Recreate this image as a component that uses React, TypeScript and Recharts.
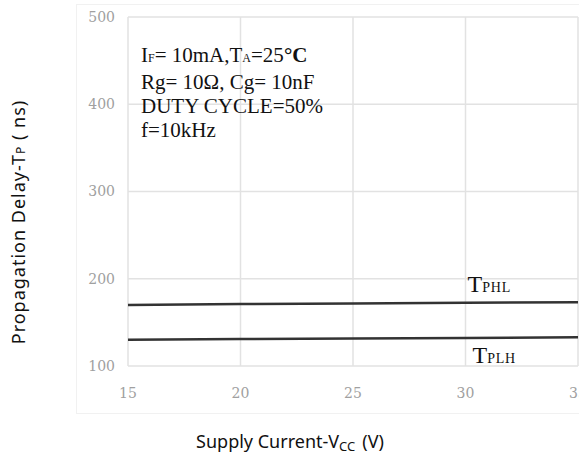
import React from "react";
import {
  LineChart,
  Line,
  XAxis,
  YAxis,
  CartesianGrid,
  ReferenceDot,
} from "recharts";

// supply voltage (V) and propagation delays (ns)
const supplyVoltage = [15, 20, 25, 30, 35];
const tphlDelay = [170, 171, 171.5, 172.5, 173];
const tplhDelay = [130, 131, 131.5, 132, 133];

const xTicks = [15, 20, 25, 30, 35];
const yTicks = [100, 200, 300, 400, 500];

const data = supplyVoltage.map((v, i) => ({
  vcc: v,
  tphl: tphlDelay[i],
  tplh: tplhDelay[i],
}));

const serif = "'Liberation Serif', 'Times New Roman', serif";
const sans = "'Noto Sans', 'Open Sans', sans-serif";

const tickStyle = {
  fontFamily: "'DejaVu Serif', serif",
  fontSize: 14,
  fill: "#a0a0a0",
};

function seriesLabel(main: string, sub: string, dx: number, dy: number) {
  return (props: any) => {
    const vb = props.viewBox || {};
    return (
      <text x={vb.x + dx} y={vb.y + dy} fontFamily={serif} fill="#111">
        <tspan fontSize={24}>{main}</tspan>
        <tspan fontSize={14} letterSpacing={0.8}>
          {sub}
        </tspan>
      </text>
    );
  };
}

const yLabel = () => (
  <text
    x={25}
    y={222}
    transform="rotate(-90, 25, 222)"
    textAnchor="middle"
    fontFamily={sans}
    fontSize={18}
    letterSpacing={1}
    fill="#111"
  >
    Propagation Delay-T<tspan fontSize={12}>P</tspan> ( ns)
  </text>
);

const xLabel = () => (
  <text
    x={290}
    y={448}
    textAnchor="middle"
    fontFamily={sans}
    fontSize={18}
    fill="#111"
  >
    Supply Current-V
    <tspan fontSize={13} dy={3}>
      CC
    </tspan>
    <tspan dy={-3} dx={7}>
      (V)
    </tspan>
  </text>
);

export default function App() {
  return (
    <div
      style={{
        position: "absolute",
        left: 0,
        top: 0,
        width: 579,
        height: 456,
        overflow: "hidden",
        background: "#fff",
      }}
    >
      <div
        style={{
          position: "absolute",
          left: 76,
          top: 4,
          width: 520,
          height: 408,
          border: "1px solid #f1f1f1",
        }}
      />
      <div style={{ position: "absolute", left: 0, top: 0 }}>
        <LineChart
          width={620}
          height={456}
          data={data}
          margin={{ top: 17, right: 42, left: 68, bottom: 60 }}
        >
          <CartesianGrid stroke="#e2e2e2" strokeWidth={1.5} />
          <XAxis
            dataKey="vcc"
            type="number"
            domain={[15, 35]}
            ticks={xTicks}
            axisLine={false}
            tickLine={false}
            tick={tickStyle}
            tickMargin={16}
            height={30}
            label={{ content: xLabel }}
          />
          <YAxis
            type="number"
            domain={[100, 500]}
            ticks={yTicks}
            axisLine={false}
            tickLine={false}
            tick={tickStyle}
            tickMargin={7}
            width={60}
            label={{ content: yLabel }}
          />
          <Line
            type="linear"
            dataKey="tphl"
            stroke="#333"
            strokeWidth={2.5}
            dot={false}
            isAnimationActive={false}
          />
          <Line
            type="linear"
            dataKey="tplh"
            stroke="#333"
            strokeWidth={2.5}
            dot={false}
            isAnimationActive={false}
          />
          <ReferenceDot
            x={supplyVoltage[3]}
            y={tphlDelay[3]}
            r={0}
            stroke="none"
            label={{ content: seriesLabel("T", "PHL", 2, -11) }}
          />
          <ReferenceDot
            x={supplyVoltage[3]}
            y={tplhDelay[3]}
            r={0}
            stroke="none"
            label={{ content: seriesLabel("T", "PLH", 7, 25) }}
          />
        </LineChart>
      </div>
      <div
        style={{
          position: "absolute",
          left: 141,
          top: 43,
          fontFamily: serif,
          fontSize: 21,
          lineHeight: "24px",
          color: "#111",
          whiteSpace: "nowrap",
        }}
      >
        <div>
          I<span style={{ fontSize: 12 }}>F</span>= 10mA,T
          <span style={{ fontSize: 12 }}>A</span>=25<b>°C</b>
        </div>
        <div>Rg= 10Ω, Cg= 10nF</div>
        <div>DUTY CYCLE=50%</div>
        <div>f=10kHz</div>
      </div>
    </div>
  );
}
